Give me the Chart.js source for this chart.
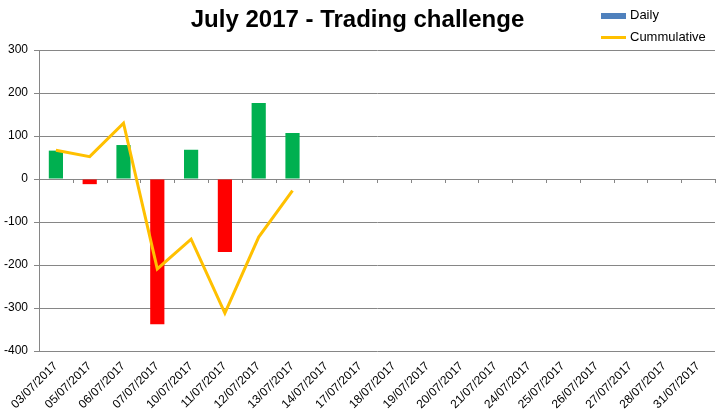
<!DOCTYPE html>
<html>
<head>
<meta charset="utf-8">
<script src="https://cdn.jsdelivr.net/npm/chart.js@4.4.0/dist/chart.umd.min.js"></script>
<style>
  body { margin: 0; background: #fff; font-family: Arial, "Liberation Sans", sans-serif; }
  #wrap { position: relative; width: 719px; height: 413px; }
  #legend { position: absolute; left: 601px; top: 4px; font-size: 13px; color: #000; }
  #legend div { height: 22px; line-height: 22px; white-space: nowrap; }
  #legend span.sw { display: inline-block; width: 25px; vertical-align: middle; margin-right: 4px; }
</style>
</head>
<body>
<div id="wrap">
  <canvas id="myChart" width="719" height="413"></canvas>
  <div id="legend">
    <div><span class="sw" style="height:6px;background:#4F81BD"></span>Daily</div>
    <div><span class="sw" style="height:3px;background:#FFC000"></span>Cummulative</div>
  </div>
</div>
<script>
  const dates = ["03/07/2017", "05/07/2017", "06/07/2017", "07/07/2017", "10/07/2017",
    "11/07/2017", "12/07/2017", "13/07/2017", "14/07/2017", "17/07/2017",
    "18/07/2017", "19/07/2017", "20/07/2017", "21/07/2017", "24/07/2017",
    "25/07/2017", "26/07/2017", "27/07/2017", "28/07/2017", "31/07/2017"];
  const daily = [66, -12, 79, -338, 68, -170, 177, 107,
    null, null, null, null, null, null, null, null, null, null, null, null];
  const cumulative = [67, 52, 130, -209, -140, -312, -135, -27,
    null, null, null, null, null, null, null, null, null, null, null, null];
  const yTicks = [300, 200, 100, 0, -100, -200, -300, -400];

  const gridColor = "#868686";
  const fontFamily = "Arial, 'Liberation Sans', sans-serif";

  // small tick marks on the zero line, like the excel axis
  const zeroTicks = {
    id: "zeroTicks",
    afterDatasetsDraw(chart) {
      const x = chart.scales.x;
      const y0 = chart.scales.y.getPixelForValue(0);
      const n = dates.length;
      const c = chart.ctx;
      c.save();
      c.strokeStyle = gridColor;
      c.lineWidth = 1;
      c.beginPath();
      for (let i = 1; i <= n; i++) {
        const px = Math.round(x.left + i * (x.width / n)) + 0.5;
        c.moveTo(px, y0);
        c.lineTo(px, y0 + 4);
      }
      c.stroke();
      c.restore();
    },
  };

  new Chart(document.getElementById("myChart"), {
    type: "bar",
    data: {
      labels: dates,
      datasets: [
        {
          type: "line",
          label: "Cummulative",
          data: cumulative,
          borderColor: "#FFC000",
          borderWidth: 3,
          pointRadius: 0,
          tension: 0,
          order: 0,
        },
        {
          type: "bar",
          label: "Daily",
          data: daily,
          backgroundColor: (c) => (c.raw < 0 ? "#FF0000" : "#00B050"),
          categoryPercentage: 1,
          barPercentage: 0.42,
          order: 1,
        },
      ],
    },
    options: {
      responsive: false,
      animation: false,
      layout: { padding: { right: 4, left: 0, bottom: 0 } },
      plugins: {
        legend: { display: false },
        tooltip: { enabled: false },
        title: {
          display: true,
          text: "July 2017 - Trading challenge",
          color: "#000",
          font: { family: fontFamily, size: 24, weight: "bold", lineHeight: 1.2 },
          padding: { top: 6, bottom: 15.2 },
        },
      },
      scales: {
        x: {
          grid: { display: false },
          border: { display: false },
          ticks: {
            autoSkip: false,
            maxRotation: 45,
            minRotation: 45,
            color: "#000",
            font: { family: fontFamily, size: 12 },
            padding: 0,
          },
          afterFit: (s) => { s.height = 62; },
        },
        y: {
          min: -400,
          max: 300,
          afterBuildTicks: (s) => { s.ticks = yTicks.map((v) => ({ value: v })); },
          grid: { color: gridColor, lineWidth: 1, tickLength: 5 },
          border: { color: gridColor },
          ticks: {
            color: "#000",
            font: { family: fontFamily, size: 12 },
            padding: 6,
          },
          afterFit: (s) => { s.width = 39; },
        },
      },
    },
    plugins: [zeroTicks],
  });
</script>
</body>
</html>
